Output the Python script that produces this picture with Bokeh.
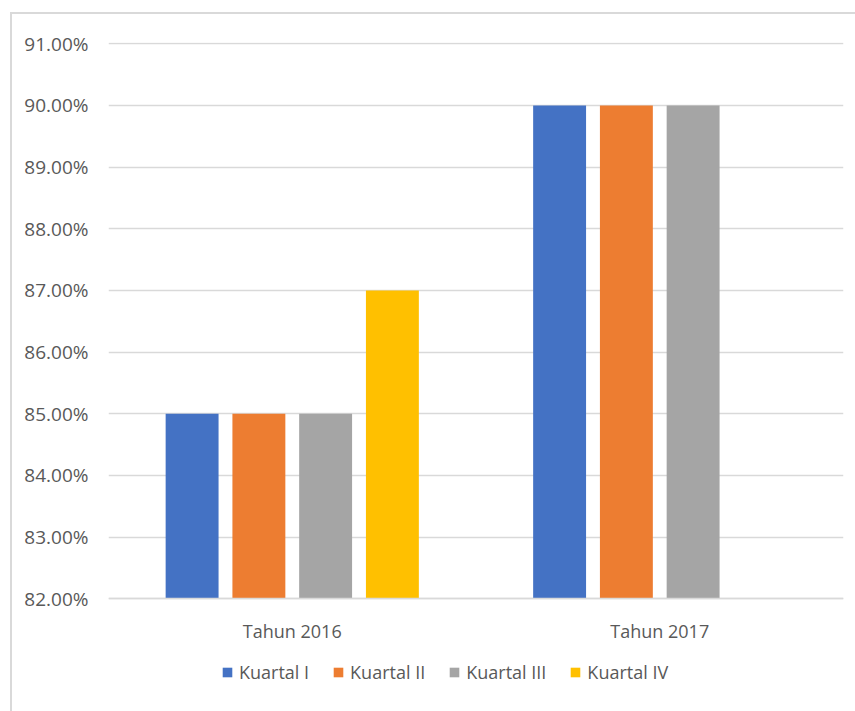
from bokeh.plotting import figure
from bokeh.models import ColumnDataSource, FactorRange, FixedTicker, PrintfTickFormatter, Legend, LegendItem
from bokeh.transform import dodge
from bokeh.embed import file_html
from bokeh.resources import INLINE
import numpy as np

categories = ["Tahun 2016", "Tahun 2017"]
series = ["Kuartal I", "Kuartal II", "Kuartal III", "Kuartal IV"]
kuartal_1 = [85.0, 90.0]
kuartal_2 = [85.0, 90.0]
kuartal_3 = [85.0, 90.0]
kuartal_4 = [87.0, np.nan]
y_ticks = [82, 83, 84, 85, 86, 87, 88, 89, 90, 91]
colors = ["#4472C4", "#ED7D31", "#A5A5A5", "#FFC000"]
y_min, y_max = 82, 91

source = ColumnDataSource(data=dict(
    cat=categories, k1=kuartal_1, k2=kuartal_2, k3=kuartal_3, k4=kuartal_4
))

FONT = "Open Sans"
TXT = "#595959"
GRID = "#D9D9D9"

# frame spans the chart plus the area below it (axis labels and legend)
px_per_unit = 556 / (y_max - y_min)
frame_h = 669
y_start = y_min - (frame_h - 556) / px_per_unit

p = figure(
    x_range=FactorRange(factors=categories, range_padding=0),
    y_range=(y_start, y_max + 0.02),
    frame_width=735, frame_height=frame_h,
    output_backend="svg", toolbar_location=None,
    min_border_left=96, min_border_right=12, min_border_top=28, min_border_bottom=0,
)
p.styles = {"margin-left": "10px", "margin-top": "12px",
            "border-left": f"2px solid {GRID}", "border-top": f"2px solid {GRID}"}
p.outline_line_color = None
p.background_fill_color = "white"
p.border_fill_color = "white"

offsets = [-0.2725, -0.0908, 0.0908, 0.2725]
cols = ["k1", "k2", "k3", "k4"]
renderers = []
for col, off, c in zip(cols, offsets, colors):
    r = p.vbar(x=dodge("cat", off, range=p.x_range), top=col, bottom=y_min, width=0.144,
               source=source, fill_color=c, line_color=None)
    renderers.append(r)

p.yaxis.ticker = FixedTicker(ticks=y_ticks)
p.yaxis.formatter = PrintfTickFormatter(format="%.2f%%")
p.yaxis.axis_line_color = None
p.yaxis.major_tick_line_color = None
p.yaxis.minor_tick_line_color = None
p.yaxis.major_tick_in = 0
p.yaxis.major_tick_out = 0
p.yaxis.major_label_standoff = 20
p.yaxis.major_label_text_font = FONT
p.yaxis.major_label_text_font_size = "19px"
p.yaxis.major_label_text_color = TXT

p.xaxis.fixed_location = y_min
p.xaxis.axis_line_color = GRID
p.xaxis.axis_line_width = 1.5
p.xaxis.major_tick_line_color = None
p.xaxis.major_tick_out = 0
p.xaxis.major_tick_in = 0
p.xaxis.major_label_standoff = 20
p.xaxis.major_label_text_font = FONT
p.xaxis.major_label_text_font_size = "18px"
p.xaxis.major_label_text_color = TXT

p.xgrid.grid_line_color = None
p.ygrid.grid_line_color = GRID
p.ygrid.grid_line_width = 1.5
p.ygrid.ticker = FixedTicker(ticks=y_ticks)

legend = Legend(
    items=[LegendItem(label=s, renderers=[r]) for s, r in zip(series, renderers)],
    orientation="horizontal", location=(113, 27),
    glyph_width=12, glyph_height=12, label_standoff=6, spacing=23,
    label_text_font=FONT, label_text_font_size="18px", label_text_color=TXT,
    border_line_color=None, background_fill_alpha=0, padding=0, margin=0,
)
p.add_layout(legend, "center")

open("out.html", "w").write(file_html(p, INLINE))
